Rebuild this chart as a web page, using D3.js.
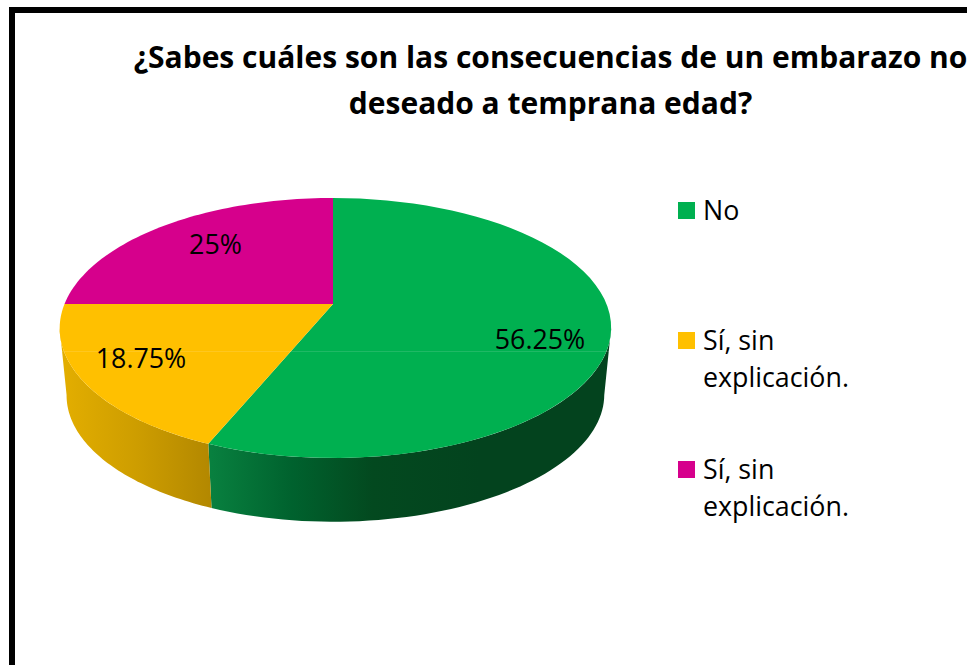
<!DOCTYPE html>
<html lang="es">
<head>
<meta charset="utf-8">
<title>Consecuencias de un embarazo no deseado</title>
<script src="https://cdn.jsdelivr.net/npm/d3@7/dist/d3.min.js"></script>
<style>
html,body{margin:0;padding:0;background:#fff;overflow:hidden}
svg{display:block}
text{font-family:"Open Sans","Noto Sans",sans-serif;fill:#000}
</style>
</head>
<body>
<svg id="chart" width="967" height="665" viewBox="0 0 967 665"></svg>
<script>
const titleLines = ["¿Sabes cuáles son las consecuencias de un embarazo no", "deseado a temprana edad?"];
const categories = ["No", "Sí, sin explicación.", "Sí, sin explicación."];
const values = [56.25, 18.75, 25];
const valueLabels = ["56.25%", "18.75%", "25%"];
const colors = ["#00b050", "#ffc000", "#d6008c"];

const svg = d3.select("#chart");
const defs = svg.append("defs");

// frame
svg.append("rect").attr("x", 12).attr("y", 10).attr("width", 1000).attr("height", 700)
  .attr("fill", "#fff").attr("stroke", "#000").attr("stroke-width", 6);

// title
svg.append("g").selectAll("text").data(titleLines).join("text")
  .attr("x", 550.5).attr("y", (d, i) => 68 + i * 46)
  .attr("text-anchor", "middle").attr("font-weight", 700).attr("font-size", 30)
  .text(d => d);

// perspective projection of a flat disc
const apex = {x: 333, y: 304}, halfWidth = 271;
const persp = -0.1846, vertical = 69.45;
const project = (a) => {
  const u = Math.sin(a), v = -Math.cos(a), w = 1 + persp * v;
  return [apex.x + halfWidth * u / w + 2.5 * u * u, (vertical * v + apex.y) / w];
};
const base = {cx: 335.5, cy: 328, scale: 0.975, drop: 67};
const projectBottom = (a) => {
  const [x, y] = project(a);
  return [base.cx + (x - base.cx) * base.scale, base.cy + (y - base.cy) * base.scale + base.drop];
};
const pieAngles = d3.pie().sort(null).value(d => d)(values);
const sample = (a0, a1) => d3.range(0, 61).map(i => a0 + (a1 - a0) * i / 60);
const line = d3.line();

// side wall gradients
const wallStops = [
  [["0%", "#08803f"], ["30%", "#00622e"], ["60%", "#03491f"], ["100%", "#03431e"]],
  [["0%", "#e3ae00"], ["50%", "#cd9d00"], ["100%", "#b28700"]]
];
const wallRange = [[211, 480], [62, 213]];
wallStops.forEach((stops, i) => {
  const g = defs.append("linearGradient").attr("id", "wall" + i)
    .attr("gradientUnits", "userSpaceOnUse")
    .attr("x1", wallRange[i][0]).attr("x2", wallRange[i][1]).attr("y1", 0).attr("y2", 0);
  stops.forEach(s => g.append("stop").attr("offset", s[0]).attr("stop-color", s[1]));
});
// the wall runs between the two points where the disc is widest
const widestOffset = 0.185;
const wallSpans = [
  [Math.PI / 2 + widestOffset, pieAngles[0].endAngle],
  [pieAngles[1].startAngle, pieAngles[1].endAngle - widestOffset]
];
svg.append("g").selectAll("path").data(wallSpans).join("path")
  .attr("fill", (d, i) => `url(#wall${i})`)
  .attr("d", d => {
    const s = sample(d[0], d[1]);
    return line(s.map(project).concat(s.slice().reverse().map(projectBottom))) + "Z";
  });

// top face
svg.append("g").selectAll("path").data(pieAngles).join("path")
  .attr("fill", (d, i) => colors[i])
  .attr("d", d => line([[apex.x, apex.y]].concat(sample(d.startAngle, d.endAngle).map(project))) + "Z");

// faint seam across the disc
svg.append("line").attr("x1", 60).attr("x2", 611).attr("y1", 351.5).attr("y2", 351.5)
  .attr("stroke", "#fff").attr("stroke-opacity", 0.12).attr("stroke-width", 1);

// value labels
const labelAnchors = [[540, 349], [141, 368], [215.5, 254]];
svg.append("g").selectAll("text").data(valueLabels).join("text")
  .attr("x", (d, i) => labelAnchors[i][0]).attr("y", (d, i) => labelAnchors[i][1])
  .attr("text-anchor", "middle").attr("font-size", 26.8).text(d => d);

// legend
const legendY = [202, 332, 461];
const legend = svg.append("g").selectAll("g").data(categories).join("g")
  .attr("transform", (d, i) => `translate(678,${legendY[i]})`);
legend.append("rect").attr("width", 17).attr("height", 17).attr("fill", (d, i) => colors[i]);
legend.each(function (d) {
  const m = d.indexOf(", sin ");
  const lines = m < 0 ? [d] : [d.slice(0, m + 5), d.slice(m + 6)];
  d3.select(this).selectAll("text").data(lines).join("text")
    .attr("x", 25).attr("y", (t, i) => 18 + i * 36.5)
    .attr("font-size", 26.8).text(t => t);
});
</script>
</body>
</html>
